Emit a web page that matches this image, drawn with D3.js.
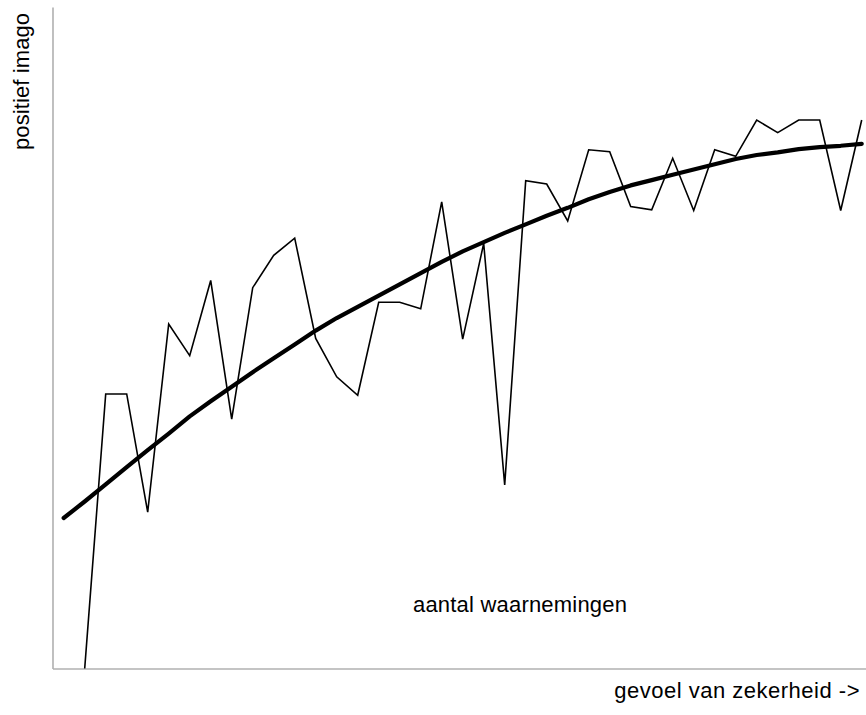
<!DOCTYPE html>
<html>
<head>
<meta charset="utf-8">
<script src="https://cdn.jsdelivr.net/npm/d3@7"></script>
<style>
  html, body { margin: 0; padding: 0; background: #fff; }
  svg { display: block; }
  text { font-family: "Liberation Sans", Arial, sans-serif; fill: #000; }
</style>
</head>
<body>
<svg id="chart" width="866" height="715"></svg>
<script>
// Category index along the x axis (0..38)
const categories = d3.range(39);

// Thin line: "aantal waarnemingen" (no value at category 0)
const observations = [null, 0, 41.6, 41.6, 23.7, 52.2, 47.4, 58.8, 37.8, 57.7, 62.6,
  65.2, 50.0, 44.2, 41.4, 55.5, 55.5, 54.5, 70.7, 49.9, 64.4,
  27.8, 73.9, 73.4, 67.8, 78.6, 78.3, 70.0, 69.5, 77.3, 69.4,
  78.6, 77.6, 83.1, 81.2, 83.1, 83.1, 69.4, 83.1];

// Thick trend line
const trend = [22.8, 25.3, 27.9, 30.5, 33.1, 35.6, 38.2, 40.5, 42.7, 44.9,
  47.0, 49.1, 51.2, 53.1, 54.8, 56.5, 58.2, 59.9, 61.6, 63.2,
  64.6, 66.0, 67.3, 68.6, 69.8, 71.1, 72.2, 73.2, 74.0, 74.8,
  75.6, 76.4, 77.2, 77.8, 78.2, 78.7, 79.0, 79.2, 79.5];

const labelY = "positief imago";
const labelX = "gevoel van zekerheid ->";
const labelSeries = "aantal waarnemingen";

const svg = d3.select("#chart");

const x = d3.scaleLinear().domain([0, 38]).range([63.7, 861.7]);
const y = d3.scaleLinear().domain([0, 100]).range([668.5, 8.5]);

// axes (no ticks) drawn from scales
const xAxisScale = x.copy().domain([x.invert(52.5), x.invert(866)]).range([52.5, 866]);
const yAxisScale = y.copy().domain([0, y.invert(7)]).range([668.5, 7]);

svg.append("g").attr("transform", `translate(0,${y(0)})`)
  .call(d3.axisBottom(xAxisScale).tickValues([]).tickSizeOuter(0));
svg.append("g").attr("transform", `translate(52.5,0)`)
  .call(d3.axisLeft(yAxisScale).tickValues([]).tickSizeOuter(0));
svg.selectAll(".domain").attr("stroke", "#b0b0b0").attr("stroke-width", 1.6);

// thick trend line
const lineTrend = d3.line().x((d, i) => x(categories[i])).y(d => y(d));
svg.append("path")
  .datum(trend)
  .attr("fill", "none")
  .attr("stroke", "#000")
  .attr("stroke-width", 4.2)
  .attr("stroke-linejoin", "round")
  .attr("stroke-linecap", "round")
  .attr("d", lineTrend);

// thin observations line
const lineObs = d3.line()
  .defined(d => d != null)
  .x((d, i) => x(categories[i]))
  .y(d => y(d));
svg.append("path")
  .datum(observations)
  .attr("fill", "none")
  .attr("stroke", "#000")
  .attr("stroke-width", 1.6)
  .attr("stroke-linejoin", "miter")
  .attr("d", lineObs);

// labels
svg.append("text")
  .attr("x", 413).attr("y", 612)
  .attr("font-size", 22)
  .attr("letter-spacing", 0.2)
  .text(labelSeries);

svg.append("text")
  .attr("x", 860).attr("y", 698)
  .attr("text-anchor", "end")
  .attr("font-size", 22)
  .attr("letter-spacing", 0.5)
  .text(labelX);

svg.append("text")
  .attr("transform", "translate(29,150) rotate(-90)")
  .attr("font-size", 22)
  .attr("letter-spacing", 0.1)
  .text(labelY);
</script>
</body>
</html>
